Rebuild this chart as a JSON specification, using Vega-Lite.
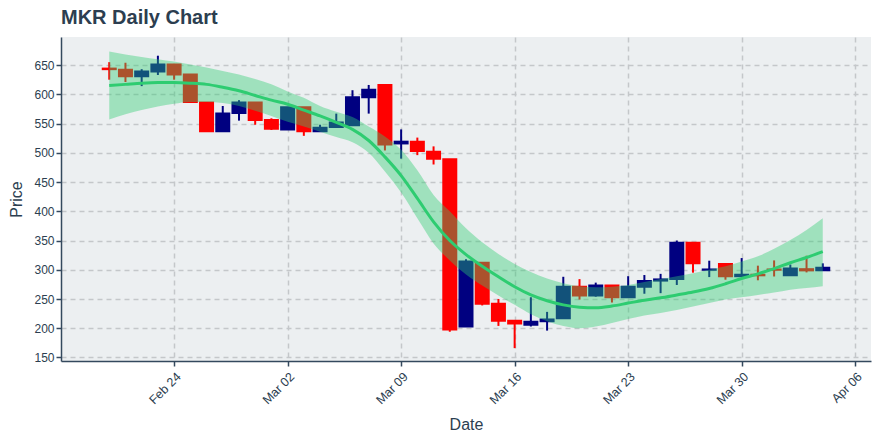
{
  "$schema": "https://vega.github.io/schema/vega-lite/v6.json",
  "width": 810,
  "height": 324,
  "autosize": "none",
  "padding": {"left": 61, "top": 37, "right": 9, "bottom": 79},
  "background": "#ffffff",
  "title": {
    "text": "MKR Daily Chart",
    "anchor": "start",
    "frame": "group",
    "fontSize": 20,
    "fontWeight": "bold",
    "font": "Liberation Sans",
    "color": "#2C3E50",
    "offset": 9
  },
  "config": {
    "view": {"fill": "#ECEFF1", "stroke": null},
    "font": "Liberation Sans",
    "axis": {
      "domainColor": "#34495E",
      "domainWidth": 1.5,
      "tickColor": "#34495E",
      "tickSize": 5,
      "tickWidth": 1.5,
      "labelColor": "#2C3E50",
      "labelFontSize": 12,
      "labelFont": "Liberation Sans",
      "labelOverlap": false,
      "titleColor": "#2C3E50",
      "titleFontSize": 16,
      "titleFontWeight": "normal",
      "titleFont": "Liberation Sans",
      "gridColor": "#C4C7CA",
      "gridDash": [5, 4],
      "gridWidth": 1.5
    }
  },
  "data": {
    "values": [
      {"date": "2020-02-20", "open": 644, "high": 655, "low": 625, "close": 643, "trend": 615, "lo": 557, "hi": 673},
      {"date": "2020-02-21", "open": 642, "high": 654, "low": 621, "close": 631, "trend": 617, "lo": 566, "hi": 668},
      {"date": "2020-02-22", "open": 631, "high": 643, "low": 614, "close": 639, "trend": 619, "lo": 573, "hi": 664},
      {"date": "2020-02-23", "open": 639, "high": 666, "low": 633, "close": 651, "trend": 620, "lo": 579, "hi": 660},
      {"date": "2020-02-24", "open": 651, "high": 652, "low": 625, "close": 634, "trend": 620, "lo": 584, "hi": 656},
      {"date": "2020-02-25", "open": 634, "high": 634, "low": 587, "close": 587, "trend": 619, "lo": 587, "hi": 651},
      {"date": "2020-02-26", "open": 586, "high": 586, "low": 537, "close": 537, "trend": 617, "lo": 587, "hi": 646},
      {"date": "2020-02-27", "open": 537, "high": 580, "low": 537, "close": 567, "trend": 612, "lo": 585, "hi": 640},
      {"date": "2020-02-28", "open": 568, "high": 590, "low": 555, "close": 586, "trend": 606, "lo": 580, "hi": 634},
      {"date": "2020-02-29", "open": 586, "high": 586, "low": 548, "close": 556, "trend": 598, "lo": 572, "hi": 626},
      {"date": "2020-03-01", "open": 556, "high": 559, "low": 539, "close": 541, "trend": 590, "lo": 563, "hi": 617},
      {"date": "2020-03-02", "open": 540, "high": 578, "low": 540, "close": 578, "trend": 583, "lo": 553, "hi": 605},
      {"date": "2020-03-03", "open": 578, "high": 578, "low": 529, "close": 537, "trend": 573, "lo": 545, "hi": 594},
      {"date": "2020-03-04", "open": 537, "high": 548, "low": 537, "close": 543, "trend": 563, "lo": 536, "hi": 580},
      {"date": "2020-03-05", "open": 544, "high": 567, "low": 544, "close": 552, "trend": 552, "lo": 527, "hi": 570},
      {"date": "2020-03-06", "open": 547, "high": 607, "low": 547, "close": 595, "trend": 540, "lo": 518, "hi": 561},
      {"date": "2020-03-07", "open": 595, "high": 616, "low": 567, "close": 608, "trend": 521, "lo": 500, "hi": 545},
      {"date": "2020-03-08", "open": 616, "high": 616, "low": 504, "close": 514, "trend": 493, "lo": 468, "hi": 528},
      {"date": "2020-03-09", "open": 516, "high": 540, "low": 490, "close": 519, "trend": 461, "lo": 432, "hi": 505},
      {"date": "2020-03-10", "open": 519, "high": 526, "low": 496, "close": 503, "trend": 422, "lo": 388, "hi": 470},
      {"date": "2020-03-11", "open": 502, "high": 511, "low": 480, "close": 490, "trend": 382, "lo": 345, "hi": 428},
      {"date": "2020-03-12", "open": 489, "high": 489, "low": 194, "close": 198, "trend": 350, "lo": 316, "hi": 400},
      {"date": "2020-03-13", "open": 203, "high": 318, "low": 203, "close": 314, "trend": 326, "lo": 292, "hi": 371},
      {"date": "2020-03-14", "open": 312, "high": 312, "low": 239, "close": 242, "trend": 306, "lo": 273, "hi": 347},
      {"date": "2020-03-15", "open": 242, "high": 250, "low": 204, "close": 213, "trend": 288, "lo": 256, "hi": 327},
      {"date": "2020-03-16", "open": 213, "high": 213, "low": 166, "close": 208, "trend": 271, "lo": 240, "hi": 310},
      {"date": "2020-03-17", "open": 206, "high": 253, "low": 203, "close": 211, "trend": 257, "lo": 224, "hi": 296},
      {"date": "2020-03-18", "open": 212, "high": 228, "low": 196, "close": 215, "trend": 247, "lo": 212, "hi": 285},
      {"date": "2020-03-19", "open": 217, "high": 288, "low": 217, "close": 271, "trend": 240, "lo": 204, "hi": 277},
      {"date": "2020-03-20", "open": 271, "high": 284, "low": 249, "close": 256, "trend": 236, "lo": 200, "hi": 272},
      {"date": "2020-03-21", "open": 256, "high": 278, "low": 254, "close": 273, "trend": 235, "lo": 203, "hi": 270},
      {"date": "2020-03-22", "open": 273, "high": 273, "low": 244, "close": 253, "trend": 238, "lo": 209, "hi": 271},
      {"date": "2020-03-23", "open": 253, "high": 289, "low": 253, "close": 271, "trend": 243, "lo": 216, "hi": 274},
      {"date": "2020-03-24", "open": 271, "high": 291, "low": 259, "close": 281, "trend": 248, "lo": 222, "hi": 279},
      {"date": "2020-03-25", "open": 281.5, "high": 293, "low": 260, "close": 283.5, "trend": 252, "lo": 226, "hi": 284},
      {"date": "2020-03-26", "open": 284, "high": 350, "low": 274, "close": 346, "trend": 257, "lo": 231, "hi": 289},
      {"date": "2020-03-27", "open": 346, "high": 346, "low": 295, "close": 311, "trend": 262, "lo": 237, "hi": 294},
      {"date": "2020-03-28", "open": 300, "high": 315.5, "low": 287.5, "close": 300.5, "trend": 268, "lo": 243, "hi": 300},
      {"date": "2020-03-29", "open": 310, "high": 310, "low": 283, "close": 289, "trend": 276, "lo": 249, "hi": 306},
      {"date": "2020-03-30", "open": 289, "high": 320, "low": 289, "close": 291.5, "trend": 285, "lo": 253, "hi": 314},
      {"date": "2020-03-31", "open": 291.5, "high": 307, "low": 282, "close": 290.5, "trend": 293, "lo": 257, "hi": 323},
      {"date": "2020-04-01", "open": 300.5, "high": 316, "low": 288.5, "close": 300, "trend": 302, "lo": 261, "hi": 336},
      {"date": "2020-04-02", "open": 290.5, "high": 309, "low": 290.5, "close": 302, "trend": 312, "lo": 266, "hi": 351},
      {"date": "2020-04-03", "open": 301, "high": 324, "low": 295.5, "close": 299, "trend": 321, "lo": 269, "hi": 368},
      {"date": "2020-04-04", "open": 299, "high": 311, "low": 299, "close": 303.5, "trend": 331, "lo": 272, "hi": 388}
    ]
  },
  "encoding": {
    "x": {
      "field": "date",
      "type": "temporal",
      "title": "Date",
      "scale": {
        "type": "utc",
        "domain": [
          {"year": 2020, "month": "Feb", "date": 17, "hours": 8, "utc": true},
          {"year": 2020, "month": "Apr", "date": 6, "hours": 16, "utc": true}
        ]
      },
      "axis": {
        "values": [
          {"year": 2020, "month": "Feb", "date": 24, "utc": true},
          {"year": 2020, "month": "Mar", "date": 2, "utc": true},
          {"year": 2020, "month": "Mar", "date": 9, "utc": true},
          {"year": 2020, "month": "Mar", "date": 16, "utc": true},
          {"year": 2020, "month": "Mar", "date": 23, "utc": true},
          {"year": 2020, "month": "Mar", "date": 30, "utc": true},
          {"year": 2020, "month": "Apr", "date": 6, "utc": true}
        ],
        "format": "%b %d",
        "labelAngle": -45,
        "labelFontSize": 12.5,
        "labelPadding": 4,
        "titlePadding": 10,
        "grid": true
      }
    }
  },
  "layer": [
    {
      "mark": {"type": "rule", "strokeWidth": 2},
      "encoding": {
        "y": {
          "field": "low",
          "type": "quantitative",
          "title": "Price",
          "scale": {"domain": [144, 698], "nice": false, "zero": false},
          "axis": {"values": [150, 200, 250, 300, 350, 400, 450, 500, 550, 600, 650], "titlePadding": 9, "grid": true}
        },
        "y2": {"field": "high"},
        "color": {"condition": {"test": "datum.close >= datum.open", "value": "#000080"}, "value": "#FF0000"}
      }
    },
    {
      "mark": {"type": "bar", "size": 13, "strokeWidth": 2},
      "encoding": {
        "y": {
          "field": "open",
          "type": "quantitative",
          "title": "Price",
          "scale": {"domain": [144, 698], "nice": false, "zero": false},
          "axis": {"values": [150, 200, 250, 300, 350, 400, 450, 500, 550, 600, 650], "titlePadding": 9, "grid": true}
        },
        "y2": {"field": "close"},
        "color": {"condition": {"test": "datum.close >= datum.open", "value": "#000080"}, "value": "#FF0000"},
        "stroke": {"condition": {"test": "datum.close >= datum.open", "value": "#000080"}, "value": "#FF0000"}
      }
    },
    {
      "mark": {"type": "area", "color": "#2ECC71", "opacity": 0.4, "interpolate": "monotone"},
      "encoding": {
        "y": {
          "field": "lo",
          "type": "quantitative",
          "title": "Price",
          "scale": {"domain": [144, 698], "nice": false, "zero": false},
          "axis": {"values": [150, 200, 250, 300, 350, 400, 450, 500, 550, 600, 650], "titlePadding": 9, "grid": true}
        },
        "y2": {"field": "hi"}
      }
    },
    {
      "mark": {"type": "line", "color": "#2ECC71", "strokeWidth": 3, "interpolate": "monotone"},
      "encoding": {
        "y": {
          "field": "trend",
          "type": "quantitative",
          "title": "Price",
          "scale": {"domain": [144, 698], "nice": false, "zero": false},
          "axis": {"values": [150, 200, 250, 300, 350, 400, 450, 500, 550, 600, 650], "titlePadding": 9, "grid": true}
        }
      }
    }
  ]
}
